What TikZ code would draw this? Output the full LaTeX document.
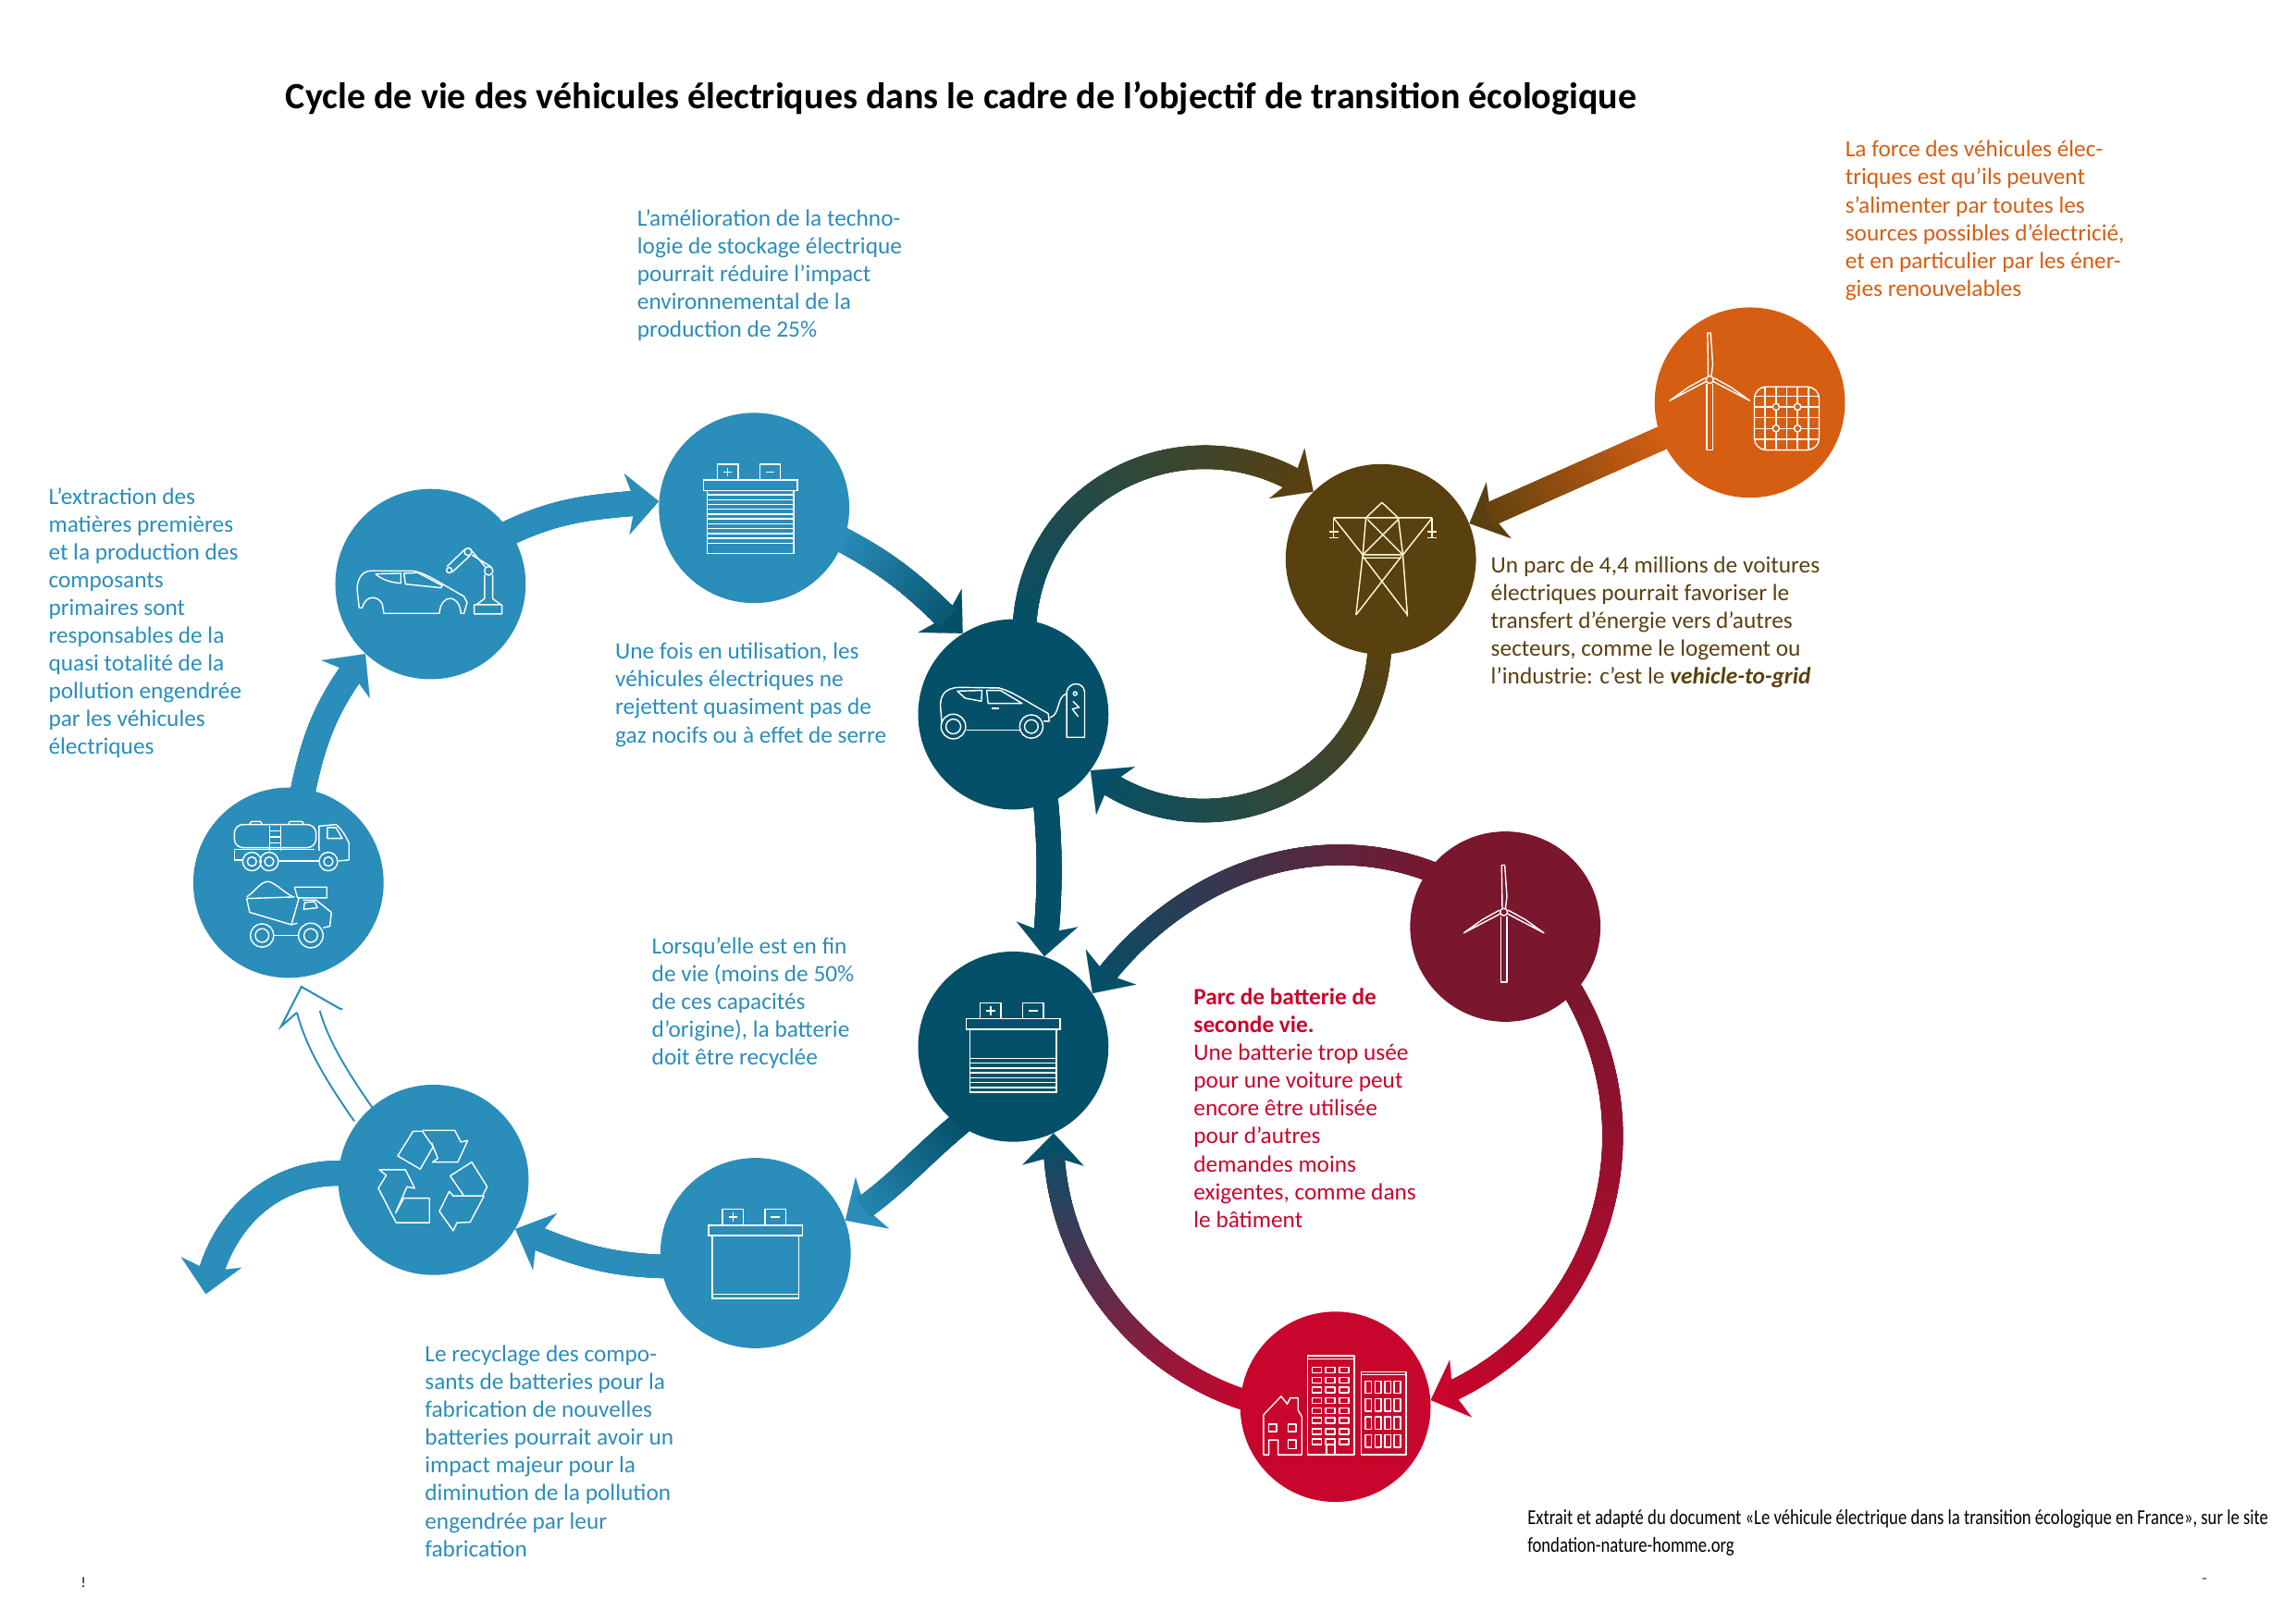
\documentclass[tikz,border=0pt]{standalone}
\usepackage{fontspec}
\setmainfont{Carlito}
\newfontfamily\sourcefont[FakeStretch=0.813]{Carlito}
\usetikzlibrary{arrows.meta,backgrounds,decorations.markings}
\definecolor{riverblue}{HTML}{2A8DBA}
\definecolor{deepteal}{HTML}{045068}
\definecolor{earthbrown}{HTML}{59400F}
\definecolor{sunorange}{HTML}{D55E12}
\definecolor{winered}{HTML}{7A162E}
\definecolor{brightred}{HTML}{C8052C}
\tikzset{
  hub/.style={shape=circle,minimum size=130pt,inner sep=0pt,draw=none},
  note/.style={anchor=north west,inner sep=0pt,align=left,font=\fontsize{16}{19}\selectfont},
  icon/.style 2 args={shift={(#1*0.6317,-#2*0.6317)},x=0.2105pt,y=-0.2105pt,white,line width=0.9pt,line join=round},
  flow/.style n args={3}{draw=#2,line width=0.1pt,-{Stealth[length=22pt,width=42pt,inset=6pt]},
    decoration={markings,
      mark=between positions 0 and -15pt step 1pt with {
        \pgfmathsetmacro\flowmix{100*(\pgfkeysvalueof{/pgf/decoration/mark info/distance from start}/\pgfdecoratedpathlength)}
        \fill[#2!\flowmix!#1] (-4,-#3/2) rectangle (0.7,#3/2);}},
    postaction={decorate}},
  hollowflow/.style={draw=riverblue,line width=1.3pt,double=white,double distance=14pt,shorten >=16pt,
    decoration={markings,mark=at position -10pt with {
      \draw[riverblue,line width=1.3pt,fill=white] (-6,8) -- (-12,21) -- (10,0) -- (-12,-21) -- (-6,-8);}},
    postaction={decorate}}
}
\newcommand\batteryicon[4]{
\begin{scope}[shift={#1},y=-1pt,white,line width=0.9pt]
\draw (-32,-19) rectangle (32,-12);
\draw (-29.5,-12) -- (-29.5,31) -- (29.5,31) -- (29.5,-12);
\draw (-22.5,-19) -- (-22.5,-30) -- (-8.5,-30) -- (-8.5,-19);
\draw (6.5,-19) -- (6.5,-30) -- (20.5,-30) -- (20.5,-19);
\draw (-15.5,-27.5) -- (-15.5,-21.5) (-18.5,-24.5) -- (-12.5,-24.5) (10.5,-24.5) -- (16.5,-24.5);
\foreach \stripe in {#2,#3,...,#4}
  \draw (-29.5,\stripe) -- (29.5,\stripe);
\end{scope}}
\newcommand\turbineicon[1]{
\begin{scope}[shift={#1},x=0.2105pt,y=-0.2105pt,white,line width=0.9pt,line join=round]
\draw (-10,14) -- (-10,228) -- (10,228) -- (10,14);
\draw (-5,-10) -- (-7,-152) -- (3,-152) -- (10,-50) -- (5,-10);
\draw (0,0) circle (12);
\draw (12,6) -- (130,68) -- (70,25) -- (14,-6);
\draw (-12,6) -- (-130,68) -- (-70,25) -- (-14,-6);
\end{scope}}
\begin{document}
\begin{tikzpicture}[x=1pt,y=1pt]
\useasboundingbox (0,0) rectangle (1568,-1108.7);
\node (assembly) at (294,-399) [hub,fill=riverblue] {};
\node (cell) at (515,-347) [hub,fill=riverblue] {};
\node (charging) at (692,-488) [hub,fill=deepteal] {};
\node (pylon) at (943,-382) [hub,fill=earthbrown] {};
\node (sources) at (1195,-275) [hub,fill=sunorange] {};
\node (trucks) at (197,-603) [hub,fill=riverblue] {};
\node (recycle) at (296,-806) [hub,fill=riverblue] {};
\node (spent) at (516,-856) [hub,fill=riverblue] {};
\node (worn) at (692,-715) [hub,fill=deepteal] {};
\node (wind) at (1028,-633) [hub,fill=winered] {};
\node (housing) at (912,-961) [hub,fill=brightred] {};
\coordinate (recycletip) at (206,-674);
\coordinate (wastetip) at (140.5,-884);
\begin{scope}[on background layer]
\path[flow={riverblue}{riverblue}{17}] (trucks.81) to[out=78,in=232] (assembly.227);
\path[flow={riverblue}{riverblue}{17}] (assembly.33) to[out=25,in=185] (cell.176);
\path[flow={riverblue}{deepteal}{17}] (cell.-20) to[out=-28,in=135] (charging.122);
\path[flow={deepteal}{earthbrown}{16}] (charging.83) to[out=85,in=145,looseness=1.14] (pylon.135);
\path[flow={earthbrown}{deepteal}{16}] (pylon.-91) to[out=-95,in=-39,looseness=1.15] (charging.-36);
\path[flow={sunorange}{earthbrown}{16}] (sources.202) -- (pylon.22);
\path[flow={deepteal}{deepteal}{17}] (charging.-70) to[out=-85,in=85] (worn.71);
\path[flow={winered}{deepteal}{14}] (wind.144) to[out=160,in=55,looseness=0.96] (worn.34);
\path[flow={winered}{brightred}{14}] (wind.-44) to[out=-60,in=21,looseness=1.04] (housing.4);
\path[flow={brightred}{deepteal}{14}] (housing.175) to[out=161,in=-91,looseness=0.94] (worn.-65);
\path[flow={deepteal}{riverblue}{16}] (worn.-125) to[out=-140,in=33] (spent.20);
\path[flow={riverblue}{riverblue}{16}] (spent.188) to[out=178,in=-23] (recycle.-31);
\path[flow={riverblue}{riverblue}{17}] (recycle.176) to[out=180,in=80] (wastetip);
\draw[hollowflow] (recycle.137) to[out=125,in=-75] (recycletip);
\end{scope}
\begin{scope}[icon={370}{570}]
\draw (65,262) -- (55,262) -- (48,200) .. controls (50,165) and (65,145) .. (90,142) -- (230,142) .. controls (270,150) and (290,165) .. (395,225) -- (405,245) -- (395,280) -- (385,280) .. controls (380,215) and (320,215) .. (315,280) -- (135,280) -- (130,250) .. controls (115,220) and (75,220) .. (65,262);
\draw (108,152) -- (190,150) -- (190,182) .. controls (160,180) and (130,172) .. (108,152);
\draw (200,150) -- (245,148) -- (325,190) -- (320,197) -- (205,185) -- cycle;
\draw (428,252) rectangle (518,282) (462,232) -- (462,155) (488,155) -- (488,232) (462,232) -- (435,252) (488,232) -- (515,252);
\draw (475,142) circle (14) (408,80) circle (12) (347,140) circle (9);
\draw (465,130) -- (412,68) (482,128) -- (420,90) (398,72) -- (340,128) (415,92) -- (358,145);
\end{scope}
\batteryicon{(512.5,-347)}{-9}{-5.7}{26}
\batteryicon{(692,-715)}{8}{11.3}{30}
\batteryicon{(516,-856)}{28}{31}{31}
\begin{scope}[icon={1000}{720}]
\draw (55,188) -- (50,130) .. controls (50,90) and (70,72) .. (110,70) -- (240,72) .. controls (280,82) and (320,110) .. (400,155) -- (403,180) -- (385,180);
\draw (135,208) -- (308,208);
\draw (92,197) circle (40) (92,197) circle (24) (345,197) circle (38) (345,197) circle (22);
\draw (105,82) -- (185,80) -- (183,115) -- (130,105) -- cycle;
\draw (200,80) -- (245,80) -- (315,122) -- (205,122) -- cycle;
\fill (215,134) rectangle (240,142);
\draw (405,168) .. controls (440,160) and (425,100) .. (460,90);
\draw (460,232) -- (460,85) .. controls (465,50) and (515,50) .. (518,85) -- (518,232) -- cycle;
\draw (480,115) -- (500,135) -- (478,140) -- (497,165);
\draw (487,90) circle (6);
\end{scope}
\begin{scope}[icon={1420}{530},color={white!85!yellow}]
\draw (65,90) -- (385,90) (222,40) -- (170,90) -- (160,210) (222,40) -- (275,90) -- (290,210);
\draw (65,90) -- (160,210) (385,90) -- (290,210) (175,95) -- (290,210) (275,95) -- (160,210);
\draw (160,210) -- (290,210) (160,220) -- (285,220) (160,210) -- (138,405) (290,210) -- (305,410);
\draw (160,215) -- (305,405) (285,215) -- (138,405);
\draw (65,90) -- (65,155) (50,135) -- (80,135) (50,155) -- (80,155);
\draw (385,90) -- (385,155) (370,135) -- (400,135) (370,155) -- (400,155);
\end{scope}
\turbineicon{(1167.6,-259.4)}
\begin{scope}[icon={1820}{350}]
\draw[rounded corners=8pt] (230,205) rectangle (440,410);
\foreach \gridx in {265,300,335,370,405}
  \draw (\gridx,205) -- (\gridx,410);
\foreach \gridy in {235,270,305,340,375}
  \draw (230,\gridy) -- (440,\gridy);
\foreach \cellx in {300,370}
  \foreach \celly in {270,340}
    \draw[fill=sunorange] (\cellx,\celly) circle (11);
\end{scope}
\turbineicon{(1027,-623)}
\begin{scope}[icon={240}{870}]
\draw[rounded corners=6pt] (40,65) rectangle (305,140);
\draw (90,65) -- (95,55) -- (125,55) -- (130,65) (215,65) -- (220,55) -- (260,55) -- (265,65);
\draw (155,70) -- (155,150) (190,70) -- (190,150) (155,85) -- (190,85) (155,105) -- (190,105) (155,125) -- (190,125);
\draw (40,146) -- (300,146);
\draw (315,150) -- (315,70) -- (370,65) .. controls (390,80) and (405,110) .. (412,125) -- (412,180) -- (378,183);
\draw (342,75) -- (370,75) -- (390,110) -- (342,110) -- cycle;
\draw (40,150) -- (40,180) -- (68,180) (185,183) -- (315,183);
\draw (97,185) circle (30) (97,185) circle (15) (153,185) circle (30) (153,185) circle (15) (345,185) circle (30) (345,185) circle (15);
\draw (80,305) -- (235,300) (80,305) -- (90,350) -- (225,390) -- (250,303);
\draw (235,268) -- (340,268) -- (340,303) -- (245,303) -- (235,268);
\draw (80,300) .. controls (110,280) and (125,250) .. (150,250) .. controls (175,255) and (200,285) .. (228,298);
\draw (262,310) -- (305,310) -- (355,350) -- (350,395) -- (328,400) (225,390) -- (245,385);
\draw (268,318) -- (300,315) -- (310,335) -- (265,340) -- cycle;
\draw (168,425) -- (248,425);
\draw (130,425) circle (38) (130,425) circle (22) (288,425) circle (40) (288,425) circle (22);
\end{scope}
\begin{scope}[icon={395}{1205}]
\draw (105,135) -- (155,55) -- (185,55) -- (220,105) -- (178,178) -- cycle;
\draw (185,52) -- (290,52) -- (310,90) -- (332,85) -- (300,155) -- (218,155) -- (235,143) -- (215,92);
\draw (275,200) -- (345,155) -- (395,235) -- (380,265) -- (285,265) -- (320,265) -- (275,200);
\draw (272,250) -- (285,265) -- (385,265) -- (340,350) -- (297,352) -- (285,378) -- (240,315) -- cycle;
\draw (45,180) -- (130,180) -- (160,240) -- (135,235) -- (98,320) -- (125,272) -- (208,272) -- (208,352) -- (100,352) -- (42,240) -- (68,198) -- cycle;
\end{scope}
\begin{scope}[icon={1350}{1450}]
\draw (190,48) rectangle (342,370) (190,58) -- (342,58);
\foreach \floor in {85,118,150,185,218,250,285,318}
  \foreach \bay in {205,250,295}
    \draw (\bay,\floor) rectangle ++(30,18);
\draw (252,370) -- (252,338) -- (280,338) -- (280,370);
\draw (365,100) rectangle (510,370) (365,110) -- (510,110);
\foreach \floor in {130,188,247,305}
  \foreach \bay in {378,410,441,472}
    \draw (\bay,\floor) rectangle ++(20,40);
\draw (48,240) -- (105,180) -- (125,205) -- (135,185) -- (160,185) -- (160,225) -- (172,245) -- (172,370) -- (95,370) -- (95,322) -- (65,322) -- (65,370) -- (48,370) -- cycle;
\draw (65,270) rectangle (90,295) (128,270) rectangle (153,295) (128,322) rectangle (153,350);
\end{scope}
\node (title) at (195,-67) [anchor=west,inner sep=0pt,font=\fontsize{25.3}{30}\selectfont\bfseries] {Cycle de vie des véhicules électriques dans le cadre de l’objectif de transition écologique};
\node (notestorage) at (435,-143) [note,riverblue] {L’amélioration de la techno-\\logie de stockage électrique\\pourrait réduire l’impact\\environnemental de la\\production de 25\%};
\node (notesources) at (1260,-96) [note,sunorange] {La force des véhicules élec-\\triques est qu’ils peuvent\\s’alimenter par toutes les\\sources possibles d’électricié,\\et en particulier par les éner-\\gies renouvelables};
\node (noteextract) at (33,-333) [note,riverblue] {L’extraction des\\matières premières\\et la production des\\composants\\primaires sont\\responsables de la\\quasi totalité de la\\pollution engendrée\\par les véhicules\\électriques};
\node (noteuse) at (420,-439) [note,riverblue] {Une fois en utilisation, les\\véhicules électriques ne\\rejettent quasiment pas de\\gaz nocifs ou à effet de serre};
\node (notegrid) at (1018,-380) [note,earthbrown] {Un parc de 4,4 millions de voitures\\électriques pourrait favoriser le\\transfert d’énergie vers d’autres\\secteurs, comme le logement ou\\l’industrie: c’est le \textbf{\textit{vehicle-to-grid}}};
\node (noteend) at (445,-640) [note,riverblue] {Lorsqu’elle est en fin\\de vie (moins de 50\%\\de ces capacités\\d’origine), la batterie\\doit être recyclée};
\node (notesecond) at (815,-675) [note,brightred] {\textbf{Parc de batterie de}\\\textbf{seconde vie.}\\Une batterie trop usée\\pour une voiture peut\\encore être utilisée\\pour d’autres\\demandes moins\\exigentes, comme dans\\le bâtiment};
\node (noterecycle) at (290,-919) [note,riverblue] {Le recyclage des compo-\\sants de batteries pour la\\fabrication de nouvelles\\batteries pourrait avoir un\\impact majeur pour la\\diminution de la pollution\\engendrée par leur\\fabrication};
\node (source) at (1043,-1031) [note,font=\fontsize{14.5}{19}\sourcefont] {Extrait et adapté du document «Le véhicule électrique dans la transition écologique en France», sur le site\\fondation-nature-homme.org};
\node (mark) at (57,-1081) [inner sep=0pt,font=\fontsize{10}{12}\selectfont] {!};
\fill[gray] (1504,-1077.5) rectangle (1506.5,-1079);
\end{tikzpicture}
\end{document}
